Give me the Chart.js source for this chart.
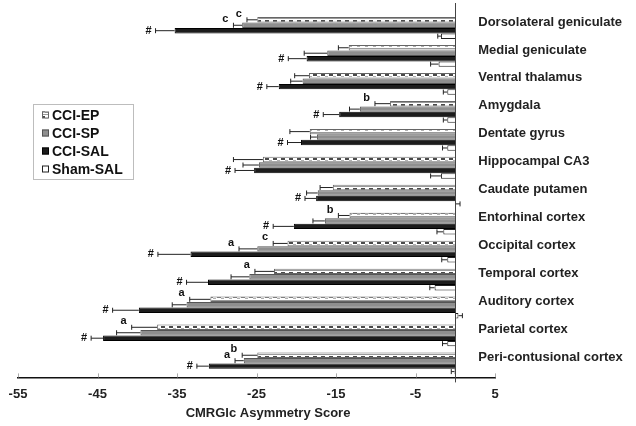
<!DOCTYPE html>
<html>
<head>
<meta charset="utf-8">
<script src="https://cdn.jsdelivr.net/npm/chart.js@4"></script>
<style>
  html, body { margin: 0; padding: 0; background: #fff; }
</style>
</head>
<body>
<canvas id="grafico" width="636" height="426"></canvas>
<script>
// regioes (de cima para baixo)
const regioes = ['Dorsolateral geniculate', 'Medial geniculate', 'Ventral thalamus', 'Amygdala',
  'Dentate gyrus', 'Hippocampal CA3', 'Caudate putamen', 'Entorhinal cortex', 'Occipital cortex',
  'Temporal cortex', 'Auditory cortex', 'Parietal cortex', 'Peri-contusional cortex'];
const xTicks = [-55, -45, -35, -25, -15, -5, 5];

const cciEP = [-24.9, -13.4, -18.4, -8.2, -18.3, -24.2, -15.4, -13.3, -21.1, -22.8, -30.8, -37.5, -24.9];
const cciEPerr = [1.3, 1.3, 1.8, 1.9, 2.5, 3.7, 1.6, 1.4, 1.8, 2.4, 2.6, 3.2, 1.9];
const cciSP = [-26.8, -16.1, -19.2, -12.0, -17.4, -24.7, -17.3, -16.4, -24.9, -25.9, -33.8, -39.6, -26.6];
const cciSPerr = [1.1, 2.9, 1.5, 1.3, 0.8, 2.0, 1.4, 1.5, 2.3, 2.3, 1.8, 3.0, 1.1];
const cciSAL = [-35.3, -18.7, -22.2, -14.6, -19.4, -25.3, -17.5, -20.3, -33.3, -31.1, -39.8, -44.3, -31.0];
const cciSALerr = [2.4, 2.3, 1.5, 2.0, 1.7, 2.4, 1.4, 2.6, 4.1, 2.7, 3.3, 1.5, 1.5];
const shamSAL = [-1.8, -2.1, -1.0, -1.0, -1.0, -1.8, 0.1, -1.5, -1.0, -2.6, 0.4, -1.0, -0.1];
const shamSALerr = [0.4, 1.0, 0.5, 0.5, 0.6, 1.3, 0.5, 0.8, 0.7, 0.6, 0.5, 0.6, 0.4];

// marcas de significancia
const sigEP = ['c', '', '', 'b', '', '', '', 'b', 'c', 'a', 'a', 'a', 'b'];
const sigSP = ['c', '', '', '', '', '', '', '', 'a', '', '', '', 'a'];
const sigSAL = ['#', '#', '#', '#', '#', '#', '#', '#', '#', '#', '#', '#', '#'];

const tituloX = 'CMRGlc Asymmetry Score';
const fonte = "'Liberation Sans', Arial, sans-serif";

// padrao tracejado do CCI-EP
const tile = document.createElement('canvas');
tile.width = 8; tile.height = 6;
const tc = tile.getContext('2d');
tc.fillStyle = '#ffffff'; tc.fillRect(0, 0, 8, 6);
tc.fillStyle = '#9a9a9a'; tc.fillRect(0, 0, 8, 1);
tc.fillStyle = '#4a4a4a';
tc.fillRect(1, 2, 4, 2);
tc.fillStyle = '#b0b0b0';
tc.fillRect(5, 4, 3, 1);
const ctx = document.getElementById('grafico').getContext('2d');
const padraoEP = ctx.createPattern(tile, 'repeat');

const erros = [cciEPerr, cciSPerr, cciSALerr, shamSALerr];
const sigs = [sigEP, sigSP, sigSAL, null];

const extras = {
  id: 'extras',
  afterDatasetsDraw(chart) {
    const c = chart.ctx;
    const xs = chart.scales.x;
    const area = chart.chartArea;
    c.save();

    // barras de erro e letras
    chart.data.datasets.forEach((ds, d) => {
      const meta = chart.getDatasetMeta(d);
      meta.data.forEach((bar, i) => {
        const v = ds.data[i];
        const fim = v < 0 ? v - erros[d][i] : v + erros[d][i];
        const x0 = xs.getPixelForValue(v);
        const x1 = xs.getPixelForValue(fim);
        c.strokeStyle = '#222';
        c.lineWidth = 1;
        c.beginPath();
        c.moveTo(x0, bar.y); c.lineTo(x1, bar.y);
        c.moveTo(x1, bar.y - 2.5); c.lineTo(x1, bar.y + 2.5);
        c.stroke();
        const s = sigs[d] ? sigs[d][i] : '';
        if (s) {
          c.fillStyle = '#111';
          c.font = 'bold 11px ' + fonte;
          c.textAlign = 'right';
          c.textBaseline = 'middle';
          if (s === '#') c.fillText(s, x1 - 4, bar.y);
          else c.fillText(s, x1 - 5, bar.y - 6);
        }
      });
    });

    // linha do zero
    const xz = xs.getPixelForValue(0);
    c.strokeStyle = '#444';
    c.lineWidth = 1;
    c.beginPath();
    c.moveTo(Math.round(xz) + 0.5, 3);
    c.lineTo(Math.round(xz) + 0.5, area.bottom + 5);
    c.stroke();

    // marcas do eixo x
    c.strokeStyle = '#aaa';
    xTicks.forEach(t => {
      const px = Math.round(xs.getPixelForValue(t)) + 0.5;
      c.beginPath();
      c.moveTo(px, area.bottom - 4); c.lineTo(px, area.bottom);
      c.stroke();
    });

    // titulo do eixo x
    c.fillStyle = '#222';
    c.font = 'bold 13px ' + fonte;
    c.textAlign = 'center';
    c.textBaseline = 'middle';
    c.fillText(tituloX, 268, 413);

    // nomes das regioes a direita do zero
    const ys = chart.scales.y;
    c.textAlign = 'left';
    regioes.forEach((r, i) => {
      c.fillText(r, xz + 23, ys.getPixelForValue(i) - 6);
    });

    // legenda
    c.strokeStyle = '#bdbdbd';
    c.strokeRect(33.5, 104.5, 100, 75);
    c.font = 'bold 14px ' + fonte;
    chart.data.datasets.forEach((ds, d) => {
      const y = 115 + d * 18;
      c.fillStyle = ds.backgroundColor;
      c.fillRect(42, y - 3.5, 7, 7);
      c.strokeStyle = ds.borderColor;
      c.strokeRect(42.5, y - 3, 6, 6);
      c.fillStyle = '#111';
      c.fillText(ds.label, 52, y + 1);
    });
    c.restore();
  }
};

new Chart(ctx, {
  type: 'bar',
  data: {
    labels: regioes,
    datasets: [
      { label: 'CCI-EP', data: cciEP, backgroundColor: padraoEP, borderColor: '#666', borderWidth: 1 },
      { label: 'CCI-SP', data: cciSP, backgroundColor: '#8f8f8f', borderColor: '#555', borderWidth: 1 },
      { label: 'CCI-SAL', data: cciSAL, backgroundColor: '#1c1c1c', borderColor: '#000', borderWidth: 1 },
      { label: 'Sham-SAL', data: shamSAL, backgroundColor: '#ffffff', borderColor: '#222', borderWidth: 1 },
    ],
  },
  options: {
    indexAxis: 'y',
    responsive: false,
    animation: false,
    layout: { padding: { left: 18, right: 141, top: 14, bottom: 23 } },
    datasets: { bar: { categoryPercentage: 0.78, barPercentage: 1 } },
    plugins: { legend: { display: false }, tooltip: { enabled: false } },
    scales: {
      x: {
        min: -55,
        max: 5,
        afterBuildTicks: s => { s.ticks = xTicks.map(v => ({ value: v })); },
        grid: { display: false },
        border: { display: true, color: '#111', width: 1.5 },
        ticks: { padding: 1, color: '#222', font: { family: fonte, size: 13, weight: 'bold' } },
      },
      y: { display: false },
    },
  },
  plugins: [extras],
});
</script>
</body>
</html>
